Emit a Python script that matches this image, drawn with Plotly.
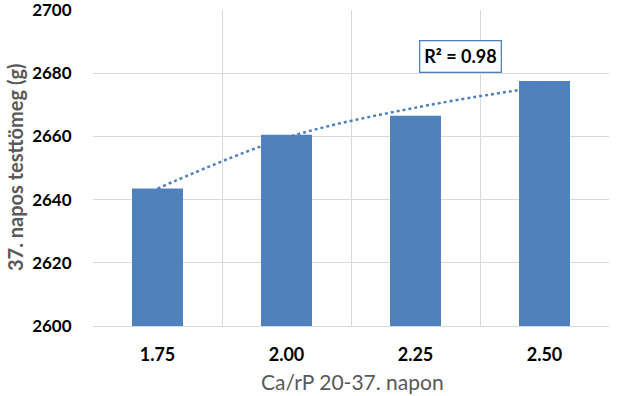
import plotly.graph_objects as go

categories = ["1.75", "2.00", "2.25", "2.50"]
body_weight = [2643.5, 2660.5, 2666.5, 2677.5]
trend_values = [2643.5, 2659.6, 2669.1, 2675.9]
y_ticks = [2600, 2620, 2640, 2660, 2680, 2700]
r2_label = "R² = 0.98"
x_title = "Ca/rP 20-37. napon"
y_title = "37. napos testtömeg (g)"

x_pos = list(range(1, len(categories) + 1))
bar_color = "#4F81BD"
font_family = "Lato, 'Open Sans', sans-serif"

W, H = 618, 396
L, R, T, B = 93, 9, 10, 70
pw, ph = W - L - R, H - T - B

fig = go.Figure()
fig.add_trace(go.Bar(x=x_pos, y=body_weight, width=0.395, marker=dict(color=bar_color, line=dict(width=0)), showlegend=False))
fig.add_trace(go.Scatter(x=x_pos, y=trend_values, mode="lines", line=dict(color=bar_color, width=2.5, dash="dot", shape="spline"), showlegend=False))

fig.add_annotation(x=3.345, y=2685.4, xref="x", yref="y", text="<b>" + r2_label + "</b>", showarrow=False,
                   xanchor="center", yanchor="middle",
                   font=dict(family=font_family, size=18, color="#000000"),
                   bgcolor="white", bordercolor=bar_color, borderwidth=1.3, borderpad=4)
fig.add_annotation(x=(352 - L) / pw, y=(H - B - 381) / ph, xref="paper", yref="paper", text=x_title, showarrow=False,
                   xanchor="center", yanchor="middle",
                   font=dict(family=font_family, size=21, color="#595959"))
fig.add_annotation(x=(15 - L) / pw, y=(H - B - 168) / ph, xref="paper", yref="paper", text="<b>" + y_title + "</b>",
                   showarrow=False, textangle=-90, xanchor="center", yanchor="middle",
                   font=dict(family=font_family, size=20, color="#595959"))

fig.update_layout(
    width=W, height=H,
    margin=dict(l=L, r=R, t=T, b=B, autoexpand=False),
    paper_bgcolor="white", plot_bgcolor="white",
    font=dict(family=font_family, color="#000000"),
    xaxis=dict(range=[0.5, 4.5], tickmode="array", tickvals=x_pos, ticktext=["<b>%s</b>" % c for c in categories],
               showgrid=False, zeroline=False, showline=True, linecolor="#D9D9D9", linewidth=1,
               tickfont=dict(family=font_family, size=18, color="#000000"), ticks="outside", ticklen=12, tickcolor="rgba(0,0,0,0)",
               minor=dict(tickmode="linear", tick0=0.5, dtick=1, showgrid=True, gridcolor="#D9D9D9", gridwidth=1),
               automargin=False, fixedrange=True),
    yaxis=dict(range=[2600, 2700], tickmode="array", tickvals=y_ticks, ticktext=["<b>%d</b>" % v for v in y_ticks],
               showgrid=True, gridcolor="#D9D9D9", gridwidth=1, zeroline=False, showline=False,
               tickfont=dict(family=font_family, size=17, color="#000000"), ticks="outside", ticklen=17, tickcolor="rgba(0,0,0,0)",
               ticklabeloverflow="allow", automargin=False, fixedrange=True),
    bargap=0.6,
)

fig.write_html("out.html", config={"displayModeBar": False},
               post_script="document.body.style.margin='0';document.body.style.overflow='hidden';")
